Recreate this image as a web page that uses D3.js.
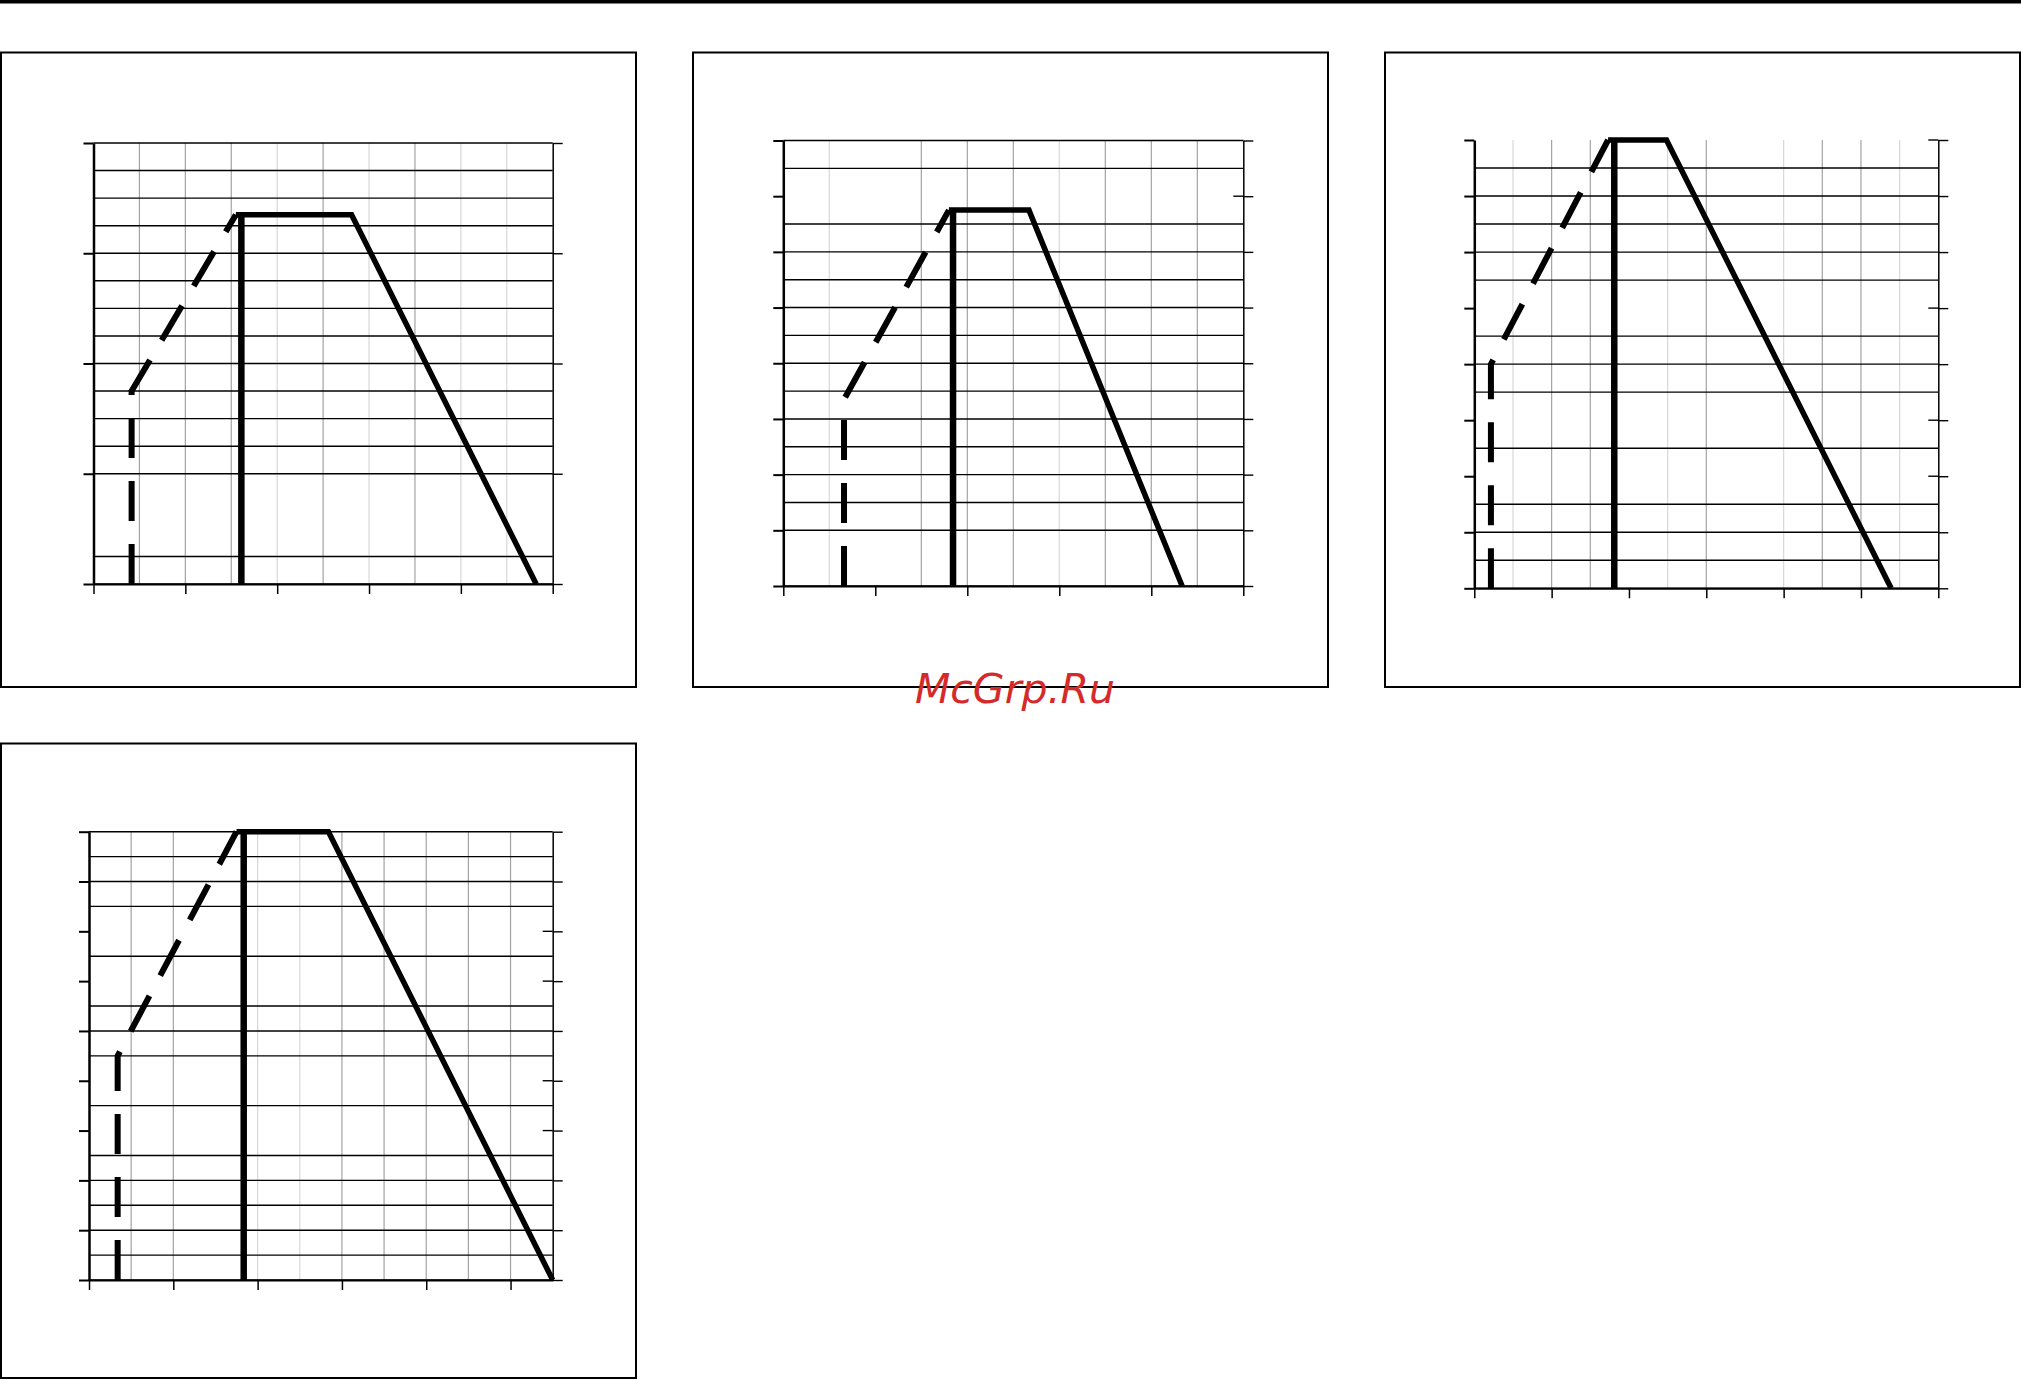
<!DOCTYPE html>
<html><head><meta charset="utf-8">
<script src="https://cdn.jsdelivr.net/npm/d3@7"></script>
<style>html,body{margin:0;padding:0;background:#fff;}svg{display:block;}</style>
</head><body>
<svg id="c" width="2021" height="1380"></svg>
<script>
// ---------------- DATA ----------------
// Panel 1 (x 0..10, y 0..16)
const p1Domain   = [10, 16];
const p1Dashed   = [[0.83, 0], [0.83, 7], [3.1, 13.4]];
const p1Vertical = [[3.22, 0], [3.22, 13.4]];
const p1Profile  = [[3.1, 13.4], [5.62, 13.4], [9.64, 0]];
const p1YMajor   = [0, 4, 8, 12, 16];
const p1YGrid    = [0, 1, 4, 5, 6, 7, 8, 9, 10, 11, 12, 13, 14, 15, 16];
const p1XTicks   = [0, 2, 4, 6, 8, 10];
const p1XGridDark  = [1, 2, 3, 5, 7];
const p1XGridLight = [4, 6, 8, 9];

// Panel 2 (x 0..10, y 0..16)
const p2Domain   = [10, 16];
const p2Dashed   = [[1.32, 0], [1.32, 6.7], [3.6, 13.5]];
const p2Vertical = [[3.69, 0], [3.69, 13.5]];
const p2Profile  = [[3.6, 13.5], [5.34, 13.5], [8.67, 0]];
const p2YMajor   = [0, 2, 4, 6, 8, 10, 12, 14, 16];
const p2YGrid    = [0, 2, 3, 4, 5, 6, 7, 8, 9, 10, 11, 12, 13, 15, 16];
const p2XTicks   = [0, 2, 4, 6, 8, 10];
const p2XGridDark  = [3, 4, 5, 7, 8, 9];
const p2XGridLight = [1, 6];

// Panel 3 (x 0..12, y 0..16)
const p3Domain   = [12, 16];
const p3Dashed   = [[0.43, 0], [0.43, 8], [3.46, 16]];
const p3Vertical = [[3.62, 0], [3.62, 16]];
const p3Profile  = [[3.46, 16], [4.97, 16], [10.78, 0]];
const p3YMajor   = [0, 2, 4, 6, 8, 10, 12, 14, 16];
const p3YGrid    = [0, 1, 2, 3, 5, 7, 8, 9, 11, 12, 13, 14, 15];
const p3XTicks   = [0, 2, 4, 6, 8, 10, 12];
const p3XGridDark  = [2, 3, 6, 9, 10];
const p3XGridLight = [1, 5, 8, 11];

// Panel 4 (x 0..11, y 0..18)
const p4Domain   = [11, 18];
const p4Dashed   = [[0.68, 0], [0.68, 9], [3.5, 18]];
const p4Vertical = [[3.67, 0], [3.67, 18]];
const p4Profile  = [[3.5, 18], [5.68, 18], [11, 0]];
const p4YMajor   = [0, 2, 4, 6, 8, 10, 12, 14, 16, 18];
const p4YGrid    = [0, 1, 2, 3, 4, 5, 7, 9, 10, 11, 13, 15, 16, 17, 18];
const p4XTicks   = [0, 2, 4, 6, 8, 10];
const p4XGridDark  = [1, 2, 6, 7, 8, 9, 10];
const p4XGridLight = [4, 5];

const watermark = "McGrp.Ru";

// ---------------- LAYOUT ----------------
const panels = [
  {box: [1, 52.5, 635, 634.5],   plot: {l: 93.5,  r: 552.7,  t: 143,   b: 584},
   dom: p1Domain, dashed: p1Dashed, vert: p1Vertical, prof: p1Profile,
   yMajor: p1YMajor, yGrid: p1YGrid, xTicks: p1XTicks, xDark: p1XGridDark, xLight: p1XGridLight},
  {box: [693, 52.5, 635, 634.5], plot: {l: 783.3, r: 1243.3, t: 140.5, b: 586},
   dom: p2Domain, dashed: p2Dashed, vert: p2Vertical, prof: p2Profile,
   yMajor: p2YMajor, yGrid: p2YGrid, xTicks: p2XTicks, xDark: p2XGridDark, xLight: p2XGridLight},
  {box: [1385, 52.5, 635, 634.5], plot: {l: 1474.3, r: 1938.3, t: 140, b: 588.3},
   dom: p3Domain, dashed: p3Dashed, vert: p3Vertical, prof: p3Profile,
   yMajor: p3YMajor, yGrid: p3YGrid, xTicks: p3XTicks, xDark: p3XGridDark, xLight: p3XGridLight},
  {box: [1, 743.5, 635, 634.5],  plot: {l: 89,    r: 552.7,  t: 831.7, b: 1280},
   dom: p4Domain, dashed: p4Dashed, vert: p4Vertical, prof: p4Profile,
   yMajor: p4YMajor, yGrid: p4YGrid, xTicks: p4XTicks, xDark: p4XGridDark, xLight: p4XGridLight}
];

const svg = d3.select('#c');
svg.append('rect').attr('x', 0).attr('y', 0).attr('width', 2021).attr('height', 3.5).attr('fill', '#000');

function drawPanel(p) {
  const g = svg.append('g');
  const [xMax, yMax] = p.dom;
  const x = d3.scaleLinear().domain([0, xMax]).range([p.plot.l, p.plot.r]);
  const y = d3.scaleLinear().domain([0, yMax]).range([p.plot.b, p.plot.t]);

  g.append('rect').attr('x', p.box[0]).attr('y', p.box[1]).attr('width', p.box[2]).attr('height', p.box[3])
    .attr('fill', 'none').attr('stroke', '#000').attr('stroke-width', 2);

  // vertical grid
  const vg = p.xDark.map(v => ({v, c: '#a3a3a3'})).concat(p.xLight.map(v => ({v, c: '#d8d8d8'})));
  g.selectAll(null).data(vg).enter().append('line')
    .attr('x1', d => x(d.v)).attr('x2', d => x(d.v)).attr('y1', y(0)).attr('y2', y(yMax))
    .attr('stroke', d => d.c).attr('stroke-width', 1.2);

  // horizontal grid
  g.selectAll(null).data(p.yGrid).enter().append('line')
    .attr('x1', x(0)).attr('x2', x(xMax)).attr('y1', d => y(d)).attr('y2', d => y(d))
    .attr('stroke', '#000').attr('stroke-width', 1.4);

  // cross ticks on right axis where grid line is absent
  const cross = p.yMajor.filter(v => !p.yGrid.includes(v));
  g.selectAll(null).data(cross).enter().append('line')
    .attr('x1', x(xMax) - 10).attr('x2', x(xMax)).attr('y1', d => y(d)).attr('y2', d => y(d))
    .attr('stroke', '#000').attr('stroke-width', 1.4);

  // axes
  const la = g.append('g').attr('transform', `translate(${x(0)},0)`)
    .call(d3.axisLeft(y).tickValues(p.yMajor).tickSize(10).tickSizeOuter(0).tickFormat(''));
  la.select('.domain').attr('stroke-width', 2.5);
  la.selectAll('.tick line').attr('stroke-width', 2);

  const ra = g.append('g').attr('transform', `translate(${x(xMax)},0)`)
    .call(d3.axisRight(y).tickValues(p.yMajor).tickSize(10).tickSizeOuter(0).tickFormat(''));
  ra.select('.domain').attr('stroke-width', 1.5);
  ra.selectAll('.tick line').attr('stroke-width', 1.4);

  const ba = g.append('g').attr('transform', `translate(0,${y(0)})`)
    .call(d3.axisBottom(x).tickValues(p.xTicks).tickSize(10).tickSizeOuter(0).tickFormat(''));
  ba.select('.domain').attr('stroke-width', 2);
  ba.selectAll('.tick line').attr('stroke-width', 1.5);

  const line = d3.line().x(d => x(d[0])).y(d => y(d[1]));
  g.append('path').attr('d', line(p.dashed)).attr('fill', 'none').attr('stroke', '#000')
    .attr('stroke-width', 6).attr('stroke-dasharray', '40,23').attr('stroke-linejoin', 'miter');
  g.append('path').attr('d', line(p.vert)).attr('fill', 'none').attr('stroke', '#000')
    .attr('stroke-width', 6.5);
  g.append('path').attr('d', line(p.prof)).attr('fill', 'none').attr('stroke', '#000')
    .attr('stroke-width', 5.5).attr('stroke-linejoin', 'miter');
}
panels.forEach(drawPanel);

svg.append('text').attr('x', 1015).attr('y', 703).attr('text-anchor', 'middle')
  .attr('font-family', 'DejaVu Sans').attr('font-style', 'italic').attr('font-size', 41)
  .attr('fill', '#d42a2a').text(watermark);
</script>
</body></html>
